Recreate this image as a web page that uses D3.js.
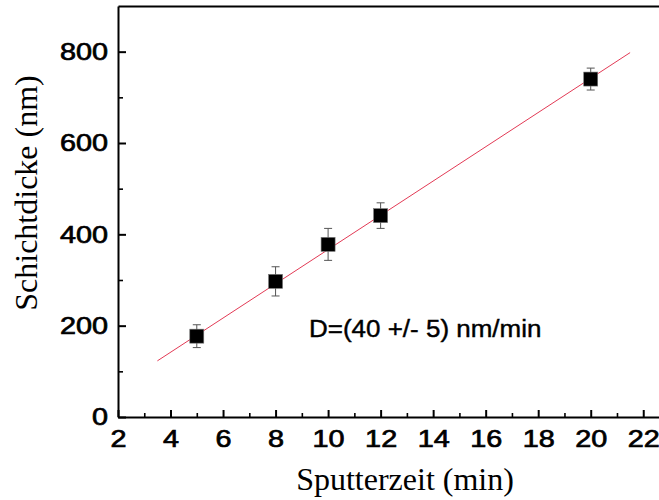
<!DOCTYPE html>
<html>
<head>
<meta charset="utf-8">
<script src="https://cdn.jsdelivr.net/npm/d3@7"></script>
<style>
  html, body { margin: 0; padding: 0; background: #fff; }
  svg { display: block; }
</style>
</head>
<body>
<svg id="chart" width="659" height="500"></svg>
<script>
// Measured film thickness against sputter time
const sputterTime = [5, 8, 10, 12, 20];            // min
const thickness = [177, 297, 378, 441, 740];       // nm
const thicknessErr = [25, 32, 35, 28, 24];         // nm

// Linear fit drawn across the measured range
const fitSlope = 37.5;
const fitIntercept = -8.3;
const fitSpan = [3.5, 21.5];

const xMajorTicks = [2, 4, 6, 8, 10, 12, 14, 16, 18, 20, 22];
const xMinorTicks = [3, 5, 7, 9, 11, 13, 15, 17, 19, 21];
const yMajorTicks = [0, 200, 400, 600, 800];
const yMinorTicks = [100, 300, 500, 700];

const xTitle = "Sputterzeit (min)";
const yTitle = "Schichtdicke (nm)";
const rateLabel = "D=(40 +/- 5) nm/min";

const svg = d3.select("#chart");

const plotLeft = 118, plotRight = 659, plotTop = 6, plotBottom = 417;
const x = d3.scaleLinear().domain([2, 22.6]).range([plotLeft, plotRight]);
const y = d3.scaleLinear().domain([0, 900]).range([plotBottom, plotTop]);

const tickFont = "'Liberation Sans', Arial, Helvetica, sans-serif";
const serifFont = "'Liberation Serif', 'Times New Roman', Times, serif";
const stretch = 1.2;

// Minor ticks (no labels)
svg.append("g")
  .attr("transform", `translate(0,${plotBottom})`)
  .call(d3.axisBottom(x).tickValues(xMinorTicks).tickSizeInner(-4).tickSizeOuter(0).tickFormat(""))
  .call(g => g.select(".domain").remove())
  .call(g => g.selectAll("line").attr("stroke", "#000").attr("stroke-width", 1.6));

svg.append("g")
  .attr("transform", `translate(${plotLeft},0)`)
  .call(d3.axisLeft(y).tickValues(yMinorTicks).tickSizeInner(-5).tickSizeOuter(0).tickFormat(""))
  .call(g => g.select(".domain").remove())
  .call(g => g.selectAll("line").attr("stroke", "#000").attr("stroke-width", 1.6));

// Bottom axis
const gx = svg.append("g")
  .attr("transform", `translate(0,${plotBottom})`)
  .call(d3.axisBottom(x).tickValues(xMajorTicks).tickSizeInner(-7).tickSizeOuter(0).tickPadding(13)
    .tickFormat(d3.format("d")));
gx.select(".domain").attr("stroke", "#000").attr("stroke-width", 2);
gx.selectAll(".tick line").attr("stroke", "#000").attr("stroke-width", 2);
gx.selectAll(".tick text")
  .attr("fill", "#000")
  .attr("stroke", "#000").attr("stroke-width", 0.7)
  .style("font-family", tickFont)
  .style("font-size", "24px")
  .attr("transform", `scale(${stretch},1)`);

// Left axis
const gy = svg.append("g")
  .attr("transform", `translate(${plotLeft},0)`)
  .call(d3.axisLeft(y).tickValues(yMajorTicks).tickSizeInner(-8).tickSizeOuter(0).tickPadding(10)
    .tickFormat(d3.format("d")));
gy.select(".domain").attr("stroke", "#000").attr("stroke-width", 2);
gy.selectAll(".tick line").attr("stroke", "#000").attr("stroke-width", 2);
gy.selectAll(".tick text")
  .attr("fill", "#000")
  .attr("stroke", "#000").attr("stroke-width", 0.7)
  .attr("x", -10 / stretch)
  .style("font-family", tickFont)
  .style("font-size", "24px")
  .attr("transform", `scale(${stretch},1)`);

// Top frame line
svg.append("g")
  .attr("transform", `translate(0,${plotTop})`)
  .call(d3.axisTop(x).tickValues([]).tickSizeOuter(0))
  .call(g => g.select(".domain").attr("stroke", "#000").attr("stroke-width", 2));

// Axis titles
svg.append("text")
  .attr("x", 405)
  .attr("y", 490)
  .attr("text-anchor", "middle")
  .style("font-family", serifFont)
  .style("font-size", "32px")
  .attr("fill", "#000")
  .text(xTitle);

svg.append("text")
  .attr("transform", "translate(37,193) rotate(-90)")
  .attr("text-anchor", "middle")
  .style("font-family", serifFont)
  .style("font-size", "32px")
  .attr("fill", "#000")
  .text(yTitle);

// Fit line
const line = d3.line().x(d => x(d)).y(d => y(fitSlope * d + fitIntercept));
svg.append("path")
  .datum(fitSpan)
  .attr("d", line)
  .attr("fill", "none")
  .attr("stroke", "#e23a55")
  .attr("stroke-width", 1);

// Data points with error bars
const points = sputterTime.map((t, i) => ({ t, v: thickness[i], e: thicknessErr[i] }));
const capHalf = 4;
const pg = svg.append("g").selectAll("g").data(points).join("g");

pg.append("line")
  .attr("x1", d => x(d.t)).attr("x2", d => x(d.t))
  .attr("y1", d => y(d.v + d.e)).attr("y2", d => y(d.v - d.e))
  .attr("stroke", "#555").attr("stroke-width", 1);
pg.append("line")
  .attr("x1", d => x(d.t) - capHalf).attr("x2", d => x(d.t) + capHalf)
  .attr("y1", d => y(d.v + d.e)).attr("y2", d => y(d.v + d.e))
  .attr("stroke", "#555").attr("stroke-width", 1);
pg.append("line")
  .attr("x1", d => x(d.t) - capHalf).attr("x2", d => x(d.t) + capHalf)
  .attr("y1", d => y(d.v - d.e)).attr("y2", d => y(d.v - d.e))
  .attr("stroke", "#555").attr("stroke-width", 1);

const sq = 14;
pg.append("rect")
  .attr("x", d => x(d.t) - sq / 2)
  .attr("y", d => y(d.v) - sq / 2)
  .attr("width", sq).attr("height", sq)
  .attr("fill", "#000")
  .attr("stroke", "#777").attr("stroke-width", 0.6);

// Growth-rate annotation
svg.append("text")
  .attr("x", 309 / 1.13)
  .attr("y", 337)
  .attr("transform", "scale(1.13,1)")
  .attr("stroke", "#000").attr("stroke-width", 0.4)
  .style("font-family", tickFont)
  .style("font-size", "23px")
  .attr("fill", "#000")
  .text(rateLabel);
</script>
</body>
</html>
